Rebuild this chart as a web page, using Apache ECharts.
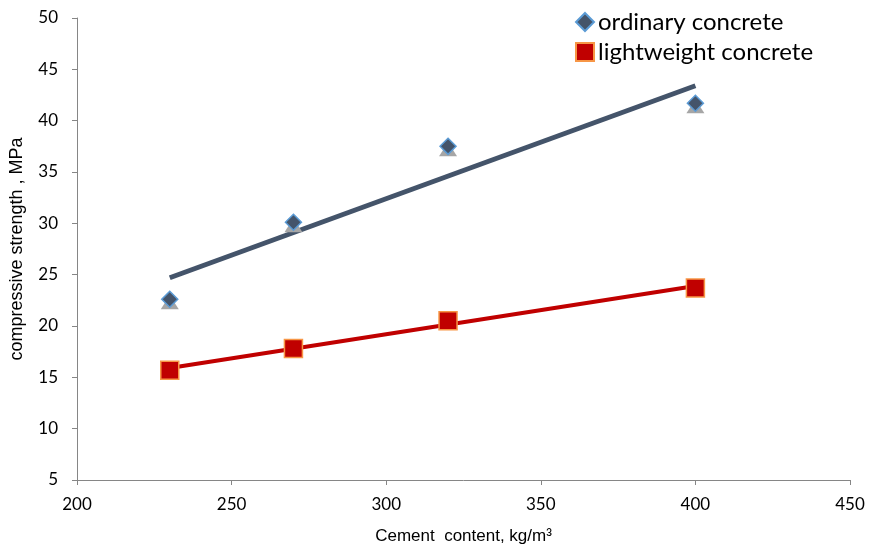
<!DOCTYPE html>
<html><head><meta charset="utf-8">
<script src="https://cdn.jsdelivr.net/npm/echarts@6/dist/echarts.min.js"></script>
<style>html,body{margin:0;padding:0;background:#fff}#c{width:869px;height:549px}</style>
</head><body><div id="c"></div>
<script>
const cementContent = [230, 270, 320, 400];
const ordinaryStrength = [22.6, 30.1, 37.5, 41.7];
const lightweightStrength = [15.7, 17.8, 20.5, 23.7];
const trendX = [230, 400];
const ordinaryTrend = [24.7, 43.4];
const lightweightTrend = [15.9, 23.9];
const xTicks = [200, 250, 300, 350, 400, 450];
const yTicks = [5, 10, 15, 20, 25, 30, 35, 40, 45, 50];

const pair = (xs, ys) => xs.map((x, i) => [x, ys[i]]);
const font = 'Lato, "Open Sans", sans-serif';
const titleFont = '"Liberation Sans", Arial, sans-serif';
const chart = echarts.init(document.getElementById('c'));
chart.setOption({
  animation: false,
  backgroundColor: '#fff',
  grid: {left: 77, right: 19, top: 18, bottom: 69, containLabel: false, outerBoundsMode: 'none'},
  legend: {
    orient: 'vertical', left: 570, top: 5, itemGap: 6, itemWidth: 18, itemHeight: 18,
    data: ['ordinary concrete', 'lightweight concrete'],
    textStyle: {fontFamily: font, fontSize: 24, color: '#000', padding: [0, 0, 0, -1]}
  },
  xAxis: {
    type: 'value', min: xTicks[0], max: xTicks[xTicks.length - 1], interval: 50,
    name: 'Cement  content, kg/m³', nameLocation: 'middle', nameGap: 48,
    nameTextStyle: {fontFamily: titleFont, fontSize: 17, color: '#000'},
    axisLine: {lineStyle: {color: '#868686', width: 1}},
    axisTick: {show: true, length: 5, lineStyle: {color: '#868686'}},
    axisLabel: {fontFamily: font, fontSize: 17, color: '#000', margin: 16},
    splitLine: {show: false}
  },
  yAxis: {
    type: 'value', min: yTicks[0], max: yTicks[yTicks.length - 1], interval: 5,
    name: 'compressive strength , MPa', nameLocation: 'middle', nameGap: 51, nameRotate: 90,
    nameTextStyle: {fontFamily: titleFont, fontSize: 18, color: '#000'},
    axisLine: {show: true, lineStyle: {color: '#868686', width: 1}},
    axisTick: {show: true, length: 5, lineStyle: {color: '#868686'}},
    axisLabel: {fontFamily: font, fontSize: 17, color: '#000', margin: 19},
    splitLine: {show: false}
  },
  series: [
    {
      name: 'ordinaryTrend', type: 'line', data: pair(trendX, ordinaryTrend), symbol: 'none',
      lineStyle: {color: '#44546a', width: 5}, z: 2
    },
    {
      name: 'lightweightTrend', type: 'line', data: pair(trendX, lightweightTrend), symbol: 'none',
      lineStyle: {color: '#c00000', width: 4}, z: 2
    },
    {
      name: 'shadow', type: 'scatter', data: pair(cementContent, ordinaryStrength),
      symbol: 'triangle', symbolSize: [18, 14], symbolOffset: [0, 3],
      itemStyle: {color: '#a6a6a6', opacity: 1}, z: 3
    },
    {
      name: 'ordinary concrete', type: 'scatter', data: pair(cementContent, ordinaryStrength),
      symbol: 'diamond', symbolSize: 16,
      itemStyle: {color: '#44546a', borderColor: '#5b9bd5', borderWidth: 1.5, opacity: 1}, z: 4
    },
    {
      name: 'lightweight concrete', type: 'scatter', data: pair(cementContent, lightweightStrength),
      symbol: 'rect', symbolSize: 18,
      itemStyle: {color: '#c00000', borderColor: '#f79646', borderWidth: 1.5, opacity: 1}, z: 4
    }
  ]
});
</script>
</body></html>
